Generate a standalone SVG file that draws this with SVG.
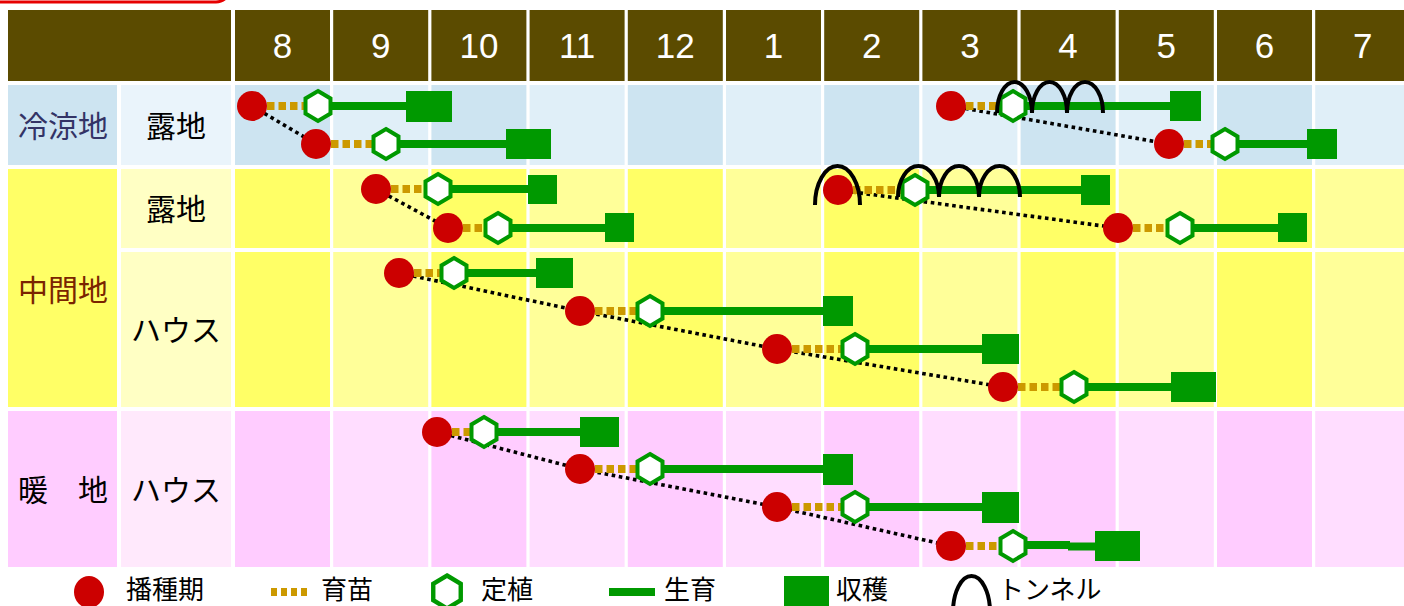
<svg xmlns="http://www.w3.org/2000/svg" xmlns:xlink="http://www.w3.org/1999/xlink" width="1404" height="606" viewBox="0 0 1404 606">
<style>
.hd{fill:#5B4B00}
.num{font-family:"Liberation Sans",Arial,sans-serif;font-size:35px;fill:#fff;text-anchor:middle}
.lb{font-family:"Noto Sans CJK JP","Noto Sans",sans-serif;font-size:30px;fill:#000;text-anchor:middle}
.lg{font-family:"Noto Sans CJK JP","Noto Sans",sans-serif;font-size:26px;fill:#000}
.sow{fill:#CC0000}
.nur{stroke:#CC9900;stroke-width:8;stroke-dasharray:7.5 4;fill:none}
.gro{stroke:#009900;stroke-width:8;fill:none}
.hv{fill:#009900}
.dot{stroke:#000;stroke-width:3.6;stroke-dasharray:3.6 3.6;fill:none}
.tun{stroke:#000;stroke-width:4;fill:none}
.b1{fill:#CDE4F1}.b2{fill:#E0EFF8}.b3{fill:#EAF4FB}
.y1{fill:#FFFF66}.y2{fill:#FFFF99}.y3{fill:#FFFFC4}
.p1{fill:#FFCCFF}.p2{fill:#FFDDFF}.p3{fill:#FFE9FC}
</style>
<defs>
<polygon id="hex" points="0,-15 12.5,-7.5 12.5,7.5 0,15 -12.5,7.5 -12.5,-7.5" fill="#fff" stroke="#009900" stroke-width="4"/>
</defs>
<rect x="0" y="0" width="1404" height="606" fill="#fff"/>
<rect x="-30" y="-40" width="260" height="42" rx="14" fill="#fff" stroke="#E60000" stroke-width="3"/>

<g id="grid">
<rect class="hd" x="8" y="10" width="223" height="71"/>
<g id="header-cells">
<rect class="hd" x="235" y="10" width="95" height="71"/>
<rect class="hd" x="333.2" y="10" width="95" height="71"/>
<rect class="hd" x="431.4" y="10" width="95" height="71"/>
<rect class="hd" x="529.6" y="10" width="95" height="71"/>
<rect class="hd" x="627.8" y="10" width="95" height="71"/>
<rect class="hd" x="726" y="10" width="95" height="71"/>
<rect class="hd" x="824.2" y="10" width="95" height="71"/>
<rect class="hd" x="922.4" y="10" width="95" height="71"/>
<rect class="hd" x="1020.6" y="10" width="95" height="71"/>
<rect class="hd" x="1118.8" y="10" width="95" height="71"/>
<rect class="hd" x="1217" y="10" width="95" height="71"/>
<rect class="hd" x="1315.2" y="10" width="95" height="71"/>
</g>
<g class="num">
<text x="282.5" y="58">8</text>
<text x="380.7" y="58">9</text>
<text x="478.9" y="58">10</text>
<text x="577.1" y="58">11</text>
<text x="675.3" y="58">12</text>
<text x="773.5" y="58">1</text>
<text x="871.7" y="58">2</text>
<text x="969.9" y="58">3</text>
<text x="1068.1" y="58">4</text>
<text x="1166.3" y="58">5</text>
<text x="1264.5" y="58">6</text>
<text x="1362.7" y="58">7</text>
</g>

<!-- Row 1 cold -->
<rect class="b1" x="8" y="85" width="109" height="80"/>
<rect class="b3" x="121" y="85" width="110" height="80"/>
<rect class="b1" x="235" y="85" width="95" height="80"/>
<rect class="b2" x="333.2" y="85" width="95" height="80"/>
<rect class="b1" x="431.4" y="85" width="95" height="80"/>
<rect class="b2" x="529.6" y="85" width="95" height="80"/>
<rect class="b1" x="627.8" y="85" width="95" height="80"/>
<rect class="b2" x="726" y="85" width="95" height="80"/>
<rect class="b1" x="824.2" y="85" width="95" height="80"/>
<rect class="b2" x="922.4" y="85" width="95" height="80"/>
<rect class="b1" x="1020.6" y="85" width="95" height="80"/>
<rect class="b2" x="1118.8" y="85" width="95" height="80"/>
<rect class="b1" x="1217" y="85" width="95" height="80"/>
<rect class="b2" x="1315.2" y="85" width="95" height="80"/>

<!-- Middle -->
<rect class="y1" x="8" y="169" width="109" height="238"/>
<rect class="y3" x="121" y="169" width="110" height="79"/>
<rect class="y3" x="121" y="252" width="110" height="155"/>
<g id="mid-cells">
<rect class="y1" x="235" y="169" width="95" height="79"/>
<rect class="y2" x="333.2" y="169" width="95" height="79"/>
<rect class="y1" x="431.4" y="169" width="95" height="79"/>
<rect class="y2" x="529.6" y="169" width="95" height="79"/>
<rect class="y1" x="627.8" y="169" width="95" height="79"/>
<rect class="y2" x="726" y="169" width="95" height="79"/>
<rect class="y1" x="824.2" y="169" width="95" height="79"/>
<rect class="y2" x="922.4" y="169" width="95" height="79"/>
<rect class="y1" x="1020.6" y="169" width="95" height="79"/>
<rect class="y2" x="1118.8" y="169" width="95" height="79"/>
<rect class="y1" x="1217" y="169" width="95" height="79"/>
<rect class="y2" x="1315.2" y="169" width="95" height="79"/>
<rect class="y1" x="235" y="252" width="95" height="155"/>
<rect class="y2" x="333.2" y="252" width="95" height="155"/>
<rect class="y1" x="431.4" y="252" width="95" height="155"/>
<rect class="y2" x="529.6" y="252" width="95" height="155"/>
<rect class="y1" x="627.8" y="252" width="95" height="155"/>
<rect class="y2" x="726" y="252" width="95" height="155"/>
<rect class="y1" x="824.2" y="252" width="95" height="155"/>
<rect class="y2" x="922.4" y="252" width="95" height="155"/>
<rect class="y1" x="1020.6" y="252" width="95" height="155"/>
<rect class="y2" x="1118.8" y="252" width="95" height="155"/>
<rect class="y1" x="1217" y="252" width="95" height="155"/>
<rect class="y2" x="1315.2" y="252" width="95" height="155"/>
</g>

<!-- Warm -->
<rect class="p1" x="8" y="411" width="109" height="156"/>
<rect class="p3" x="121" y="411" width="110" height="156"/>
<rect class="p1" x="235" y="411" width="95" height="156"/>
<rect class="p2" x="333.2" y="411" width="95" height="156"/>
<rect class="p1" x="431.4" y="411" width="95" height="156"/>
<rect class="p2" x="529.6" y="411" width="95" height="156"/>
<rect class="p1" x="627.8" y="411" width="95" height="156"/>
<rect class="p2" x="726" y="411" width="95" height="156"/>
<rect class="p1" x="824.2" y="411" width="95" height="156"/>
<rect class="p2" x="922.4" y="411" width="95" height="156"/>
<rect class="p1" x="1020.6" y="411" width="95" height="156"/>
<rect class="p2" x="1118.8" y="411" width="95" height="156"/>
<rect class="p1" x="1217" y="411" width="95" height="156"/>
<rect class="p2" x="1315.2" y="411" width="95" height="156"/>
</g>

<g id="labels">
<text class="lb" x="63" y="137" style="fill:#333366">冷涼地</text>
<text class="lb" x="176" y="137">露地</text>
<text class="lb" x="176" y="220">露地</text>
<text class="lb" x="63" y="301" style="fill:#7A2400">中間地</text>
<text class="lb" x="176" y="341">ハウス</text>
<text class="lb" x="63" y="501">暖　地</text>
<text class="lb" x="176" y="501">ハウス</text>
</g>

<g id="connectors">
<polyline class="dot" points="252,106 316,144"/>
<polyline class="dot" points="951,106 1169,144"/>
<polyline class="dot" points="376,189 448,228"/>
<polyline class="dot" points="838,190 1118,228"/>
<polyline class="dot" points="399,273 580,311 777,349 1003,387"/>
<polyline class="dot" points="437,432 580,469 777,507 951,546"/>
</g>

<g id="series-cold-1">
<line class="nur" x1="267" y1="106" x2="305" y2="106"/>
<line class="gro" x1="318" y1="106" x2="410" y2="106"/>
<rect class="hv" x="406" y="91" width="46" height="31"/>
<circle class="sow" cx="252" cy="106" r="15"/>
<use xlink:href="#hex" href="#hex" x="318" y="106"/>
</g>
<g id="series-cold-2">
<line class="nur" x1="331" y1="144" x2="373" y2="144"/>
<line class="gro" x1="386" y1="144" x2="510" y2="144"/>
<rect class="hv" x="506" y="129" width="45" height="30"/>
<circle class="sow" cx="316" cy="144" r="15"/>
<use xlink:href="#hex" href="#hex" x="386" y="144"/>
</g>
<g id="series-cold-3">
<line class="nur" x1="966" y1="106" x2="1000" y2="106"/>
<line class="gro" x1="1013" y1="106" x2="1174" y2="106"/>
<rect class="hv" x="1170" y="91" width="31" height="30"/>
<circle class="sow" cx="951" cy="106" r="15"/>
<use xlink:href="#hex" href="#hex" x="1013" y="106"/>
<path class="tun" d="M997,113 A17.5,31 0 0 1 1032,113 A17.5,31 0 0 1 1067,113 A18,31 0 0 1 1103,113"/>
</g>
<g id="series-cold-4">
<line class="nur" x1="1184" y1="144" x2="1212" y2="144"/>
<line class="gro" x1="1225" y1="144" x2="1310" y2="144"/>
<rect class="hv" x="1307" y="129" width="30" height="30"/>
<circle class="sow" cx="1169" cy="144" r="15"/>
<use xlink:href="#hex" href="#hex" x="1225" y="144"/>
</g>

<g id="series-mid-open-1">
<line class="nur" x1="391" y1="189" x2="425" y2="189"/>
<line class="gro" x1="438" y1="189" x2="531" y2="189"/>
<rect class="hv" x="528" y="175" width="29" height="29"/>
<circle class="sow" cx="376" cy="189" r="15"/>
<use xlink:href="#hex" href="#hex" x="438" y="189"/>
</g>
<g id="series-mid-open-2">
<line class="nur" x1="463" y1="228" x2="485" y2="228"/>
<line class="gro" x1="498" y1="228" x2="608" y2="228"/>
<rect class="hv" x="605" y="213" width="29" height="29"/>
<circle class="sow" cx="448" cy="228" r="15"/>
<use xlink:href="#hex" href="#hex" x="498" y="228"/>
</g>
<g id="series-mid-open-3">
<line class="nur" x1="853" y1="190" x2="902" y2="190"/>
<line class="gro" x1="915" y1="190" x2="1084" y2="190"/>
<rect class="hv" x="1081" y="175" width="29" height="30"/>
<circle class="sow" cx="838" cy="190" r="15"/>
<use xlink:href="#hex" href="#hex" x="915" y="190"/>
<path class="tun" d="M815,205 A22.5,39 0 0 1 860,205"/>
<path class="tun" d="M898,197 A20.5,31 0 0 1 939,197 A20,31 0 0 1 979,197 A20.5,31 0 0 1 1020,197"/>
</g>
<g id="series-mid-open-4">
<line class="nur" x1="1133" y1="228" x2="1167" y2="228"/>
<line class="gro" x1="1180" y1="228" x2="1281" y2="228"/>
<rect class="hv" x="1278" y="213" width="29" height="29"/>
<circle class="sow" cx="1118" cy="228" r="15"/>
<use xlink:href="#hex" href="#hex" x="1180" y="228"/>
</g>

<g id="series-mid-house-1">
<line class="nur" x1="414" y1="273" x2="441" y2="273"/>
<line class="gro" x1="454" y1="273" x2="540" y2="273"/>
<rect class="hv" x="536" y="258" width="37" height="30"/>
<circle class="sow" cx="399" cy="273" r="15"/>
<use xlink:href="#hex" href="#hex" x="454" y="273"/>
</g>
<g id="series-mid-house-2">
<line class="nur" x1="595" y1="311" x2="637" y2="311"/>
<line class="gro" x1="650" y1="311" x2="826" y2="311"/>
<rect class="hv" x="823" y="296" width="30" height="30"/>
<circle class="sow" cx="580" cy="311" r="15"/>
<use xlink:href="#hex" href="#hex" x="650" y="311"/>
</g>
<g id="series-mid-house-3">
<line class="nur" x1="792" y1="349" x2="842" y2="349"/>
<line class="gro" x1="855" y1="349" x2="985" y2="349"/>
<rect class="hv" x="982" y="334" width="37" height="30"/>
<circle class="sow" cx="777" cy="349" r="15"/>
<use xlink:href="#hex" href="#hex" x="855" y="349"/>
</g>
<g id="series-mid-house-4">
<line class="nur" x1="1018" y1="387" x2="1061" y2="387"/>
<line class="gro" x1="1074" y1="387" x2="1175" y2="387"/>
<rect class="hv" x="1171" y="372" width="45" height="30"/>
<circle class="sow" cx="1003" cy="387" r="15"/>
<use xlink:href="#hex" href="#hex" x="1074" y="387"/>
</g>

<g id="series-warm-1">
<line class="nur" x1="452" y1="432" x2="471" y2="432"/>
<line class="gro" x1="484" y1="432" x2="584" y2="432"/>
<rect class="hv" x="580" y="417" width="39" height="30"/>
<circle class="sow" cx="437" cy="432" r="15"/>
<use xlink:href="#hex" href="#hex" x="484" y="432"/>
</g>
<g id="series-warm-2">
<line class="nur" x1="595" y1="469" x2="637" y2="469"/>
<line class="gro" x1="650" y1="469" x2="826" y2="469"/>
<rect class="hv" x="823" y="454" width="30" height="31"/>
<circle class="sow" cx="580" cy="469" r="15"/>
<use xlink:href="#hex" href="#hex" x="650" y="469"/>
</g>
<g id="series-warm-3">
<line class="nur" x1="792" y1="507" x2="842" y2="507"/>
<line class="gro" x1="855" y1="507" x2="985" y2="507"/>
<rect class="hv" x="982" y="492" width="37" height="31"/>
<circle class="sow" cx="777" cy="507" r="15"/>
<use xlink:href="#hex" href="#hex" x="855" y="507"/>
</g>
<g id="series-warm-4">
<line class="nur" x1="966" y1="546" x2="1000" y2="546"/>
<line class="gro" x1="1013" y1="545" x2="1070" y2="545"/>
<line class="gro" x1="1068" y1="546.5" x2="1098" y2="546.5"/>
<rect class="hv" x="1095" y="531" width="45" height="30"/>
<circle class="sow" cx="951" cy="546" r="15"/>
<use xlink:href="#hex" href="#hex" x="1013" y="546"/>
</g>

<g id="legend">
<ellipse class="sow" cx="89" cy="592" rx="15" ry="16"/>
<text class="lg" x="126" y="599">播種期</text>
<line class="nur" x1="271" y1="592" x2="308" y2="592" style="stroke-dasharray:6 4"/>
<text class="lg" x="321" y="599">育苗</text>
<use xlink:href="#hex" href="#hex" transform="translate(447,592) scale(1.1)"/>
<text class="lg" x="481" y="599">定植</text>
<line class="gro" x1="609" y1="592" x2="655" y2="592"/>
<text class="lg" x="664" y="599">生育</text>
<rect class="hv" x="784" y="576" width="45" height="34"/>
<text class="lg" x="836" y="599">収穫</text>
<path class="tun" d="M953,612 A18.5,36 0 0 1 990,612"/>
<text class="lg" x="998" y="599">トンネル</text>
</g>
</svg>
